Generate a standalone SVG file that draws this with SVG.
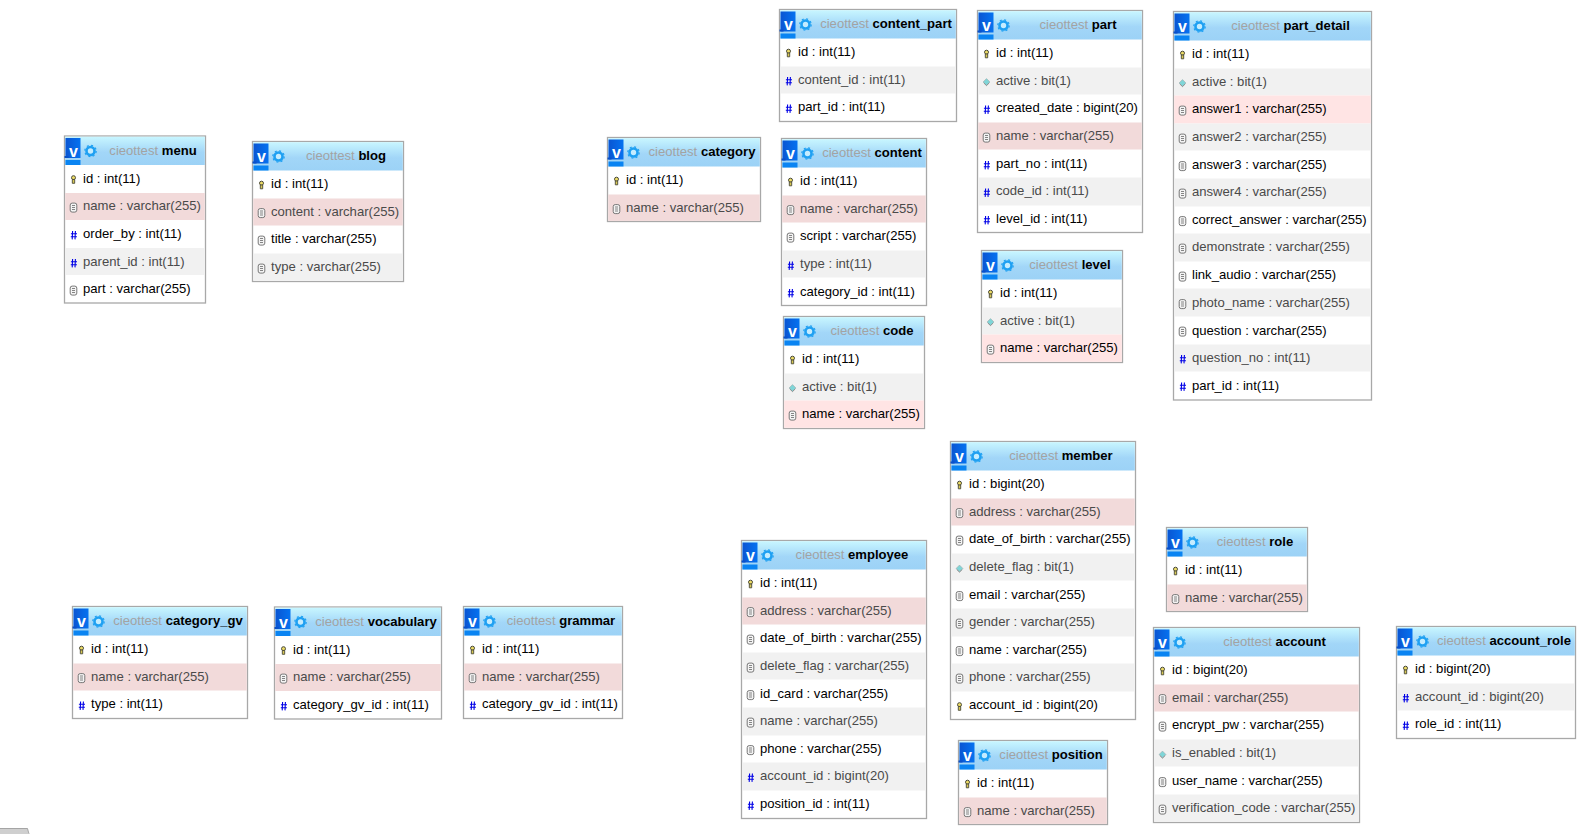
<svg xmlns="http://www.w3.org/2000/svg" width="1590" height="834" viewBox="0 0 1590 834">
<style>
text{font-family:"Liberation Sans",Arial,sans-serif;font-size:13.1px}
.box{fill:#fff;stroke:#a8a8a8;stroke-width:1.3}
.hd{fill:url(#hg)}
.alt{fill:#f1f1f1}
.pk{fill:#f2dada}
.lp{fill:#ffe4e4}
.b{fill:#000}
.g{fill:#4a4a4a}
.ttl{text-anchor:middle}
.db{fill:#a3a3a3}
.tn{fill:#000;font-weight:700}
.v{fill:#fff;font-weight:700;font-size:16px;text-anchor:middle}
</style>
<defs>
<linearGradient id="hg" x1="0" y1="0" x2="0" y2="1">
<stop offset="0" stop-color="#c8f6ff"/><stop offset=".55" stop-color="#a2d6f8"/><stop offset="1" stop-color="#9cd2f6"/>
</linearGradient>
<linearGradient id="bg" x1="0" y1="0" x2="1" y2="0">
<stop offset="0" stop-color="#0a55d2"/><stop offset="1" stop-color="#0572f0"/>
</linearGradient>
<g id="hdi">
<rect x="1" y="2" width="15" height="20" fill="url(#bg)"/>
<rect x="0" y="20" width="4" height="2" fill="#0a50c8"/>
<rect x="1" y="24" width="15" height="5" fill="#0a84f2"/>
<circle cx="26" cy="15" r="4" fill="#c4ecff" stroke="#1fa0f2" stroke-width="2.6"/>
<circle cx="26" cy="15" r="5.7" fill="none" stroke="#1fa0f2" stroke-width="1.2" stroke-dasharray="2 2.47"/>
</g>
<g id="ik">
<circle cx="0" cy="-1.8" r="2" fill="#eedd66" stroke="#4a4a3a" stroke-width="1"/>
<path d="M-1.2 0H1.2V3.8H-1.2Z" fill="#d8c850" stroke="#4a4a3a" stroke-width=".9"/>
</g>
<g id="it">
<rect x="-3.3" y="-4.4" width="6.6" height="9" rx="2" fill="#f4f4f4" stroke="#777" stroke-width="1"/>
<path d="M-1.5 -2H1.5M-1.5 0H1.5M-1.5 2H1.5" stroke="#777" stroke-width=".9"/>
</g>
<g id="ib">
<path d="M0 -3.4L3.4 0L0 3.4L-3.4 0Z" fill="#7fd6d8" stroke="#a4b0b0" stroke-width=".7"/>
<path d="M-2.7 1L0 3.6L2.7 1" fill="none" stroke="#8a8a8a" stroke-width=".9"/>
</g>
<g id="ih">
<path d="M-.9 -4L-1.3 4.4M1.9 -4L1.5 4.4M-2.6 -1.2H3.5M-2.7 1.8H3.4" fill="none" stroke="#0000e6" stroke-width="1.1"/>
</g>
</defs>
<rect width="1590" height="834" fill="#fff"/>
<g id="connectors"/>

<g id="t-menu" transform="translate(64.5,136)">
<rect class="box" width="141" height="167"/><rect class="hd" x=".7" y=".7" width="139.6" height="28.3"/><use href="#hdi"/>
<rect class="pk" x=".7" y="57" width="139.6" height="27"/><rect class="alt" x=".7" y="112" width="139.6" height="27"/>
<text class="ttl" x="88.5" y="18.5"><tspan class="db">cieottest </tspan><tspan class="tn">menu</tspan></text><text class="v" x="9" y="20.5">v</text>
<use href="#ik" x="9" y="43.5"/><text class="b" x="18.5" y="46.7">id : int(11)</text>
<use href="#it" x="9" y="71.5"/><text class="g" x="18.5" y="74.2">name : varchar(255)</text>
<use href="#ih" x="9" y="99"/><text class="b" x="18.5" y="101.9">order_by : int(11)</text>
<use href="#ih" x="9" y="127"/><text class="g" x="18.5" y="129.5">parent_id : int(11)</text>
<use href="#it" x="9" y="154.5"/><text class="b" x="18.5" y="157.2">part : varchar(255)</text>
</g>

<g id="t-blog" transform="translate(252.5,141.5)">
<rect class="box" width="151" height="140"/><rect class="hd" x=".7" y=".7" width="149.6" height="28.3"/><use href="#hdi"/>
<rect class="pk" x=".7" y="57" width="149.6" height="27"/><rect class="alt" x=".7" y="112" width="149.6" height="27"/>
<text class="ttl" x="93.5" y="18.5"><tspan class="db">cieottest </tspan><tspan class="tn">blog</tspan></text><text class="v" x="9" y="20.5">v</text>
<use href="#ik" x="9" y="43.5"/><text class="b" x="18.5" y="46.7">id : int(11)</text>
<use href="#it" x="9" y="71.5"/><text class="g" x="18.5" y="74.2">content : varchar(255)</text>
<use href="#it" x="9" y="99"/><text class="b" x="18.5" y="101.9">title : varchar(255)</text>
<use href="#it" x="9" y="127"/><text class="g" x="18.5" y="129.5">type : varchar(255)</text>
</g>

<g id="t-category" transform="translate(607.5,137.5)">
<rect class="box" width="153" height="84"/><rect class="hd" x=".7" y=".7" width="151.6" height="28.3"/><use href="#hdi"/>
<rect class="pk" x=".7" y="57" width="151.6" height="26.4"/>
<text class="ttl" x="94.5" y="18.5"><tspan class="db">cieottest </tspan><tspan class="tn">category</tspan></text><text class="v" x="9" y="20.5">v</text>
<use href="#ik" x="9" y="43.5"/><text class="b" x="18.5" y="46.7">id : int(11)</text>
<use href="#it" x="9" y="71.5"/><text class="g" x="18.5" y="74.2">name : varchar(255)</text>
</g>

<g id="t-content-part" transform="translate(779.5,9.5)">
<rect class="box" width="177" height="112"/><rect class="hd" x=".7" y=".7" width="175.6" height="28.3"/><use href="#hdi"/>
<rect class="alt" x=".7" y="57" width="175.6" height="27"/>
<text class="ttl" x="106.5" y="18.5"><tspan class="db">cieottest </tspan><tspan class="tn">content_part</tspan></text><text class="v" x="9" y="20.5">v</text>
<use href="#ik" x="9" y="43.5"/><text class="b" x="18.5" y="46.7">id : int(11)</text>
<use href="#ih" x="9" y="71.5"/><text class="g" x="18.5" y="74.2">content_id : int(11)</text>
<use href="#ih" x="9" y="99"/><text class="b" x="18.5" y="101.9">part_id : int(11)</text>
</g>

<g id="t-content" transform="translate(781.5,138.5)">
<rect class="box" width="145" height="167"/><rect class="hd" x=".7" y=".7" width="143.6" height="28.3"/><use href="#hdi"/>
<rect class="pk" x=".7" y="57" width="143.6" height="27"/><rect class="alt" x=".7" y="112" width="143.6" height="27"/>
<text class="ttl" x="90.5" y="18.5"><tspan class="db">cieottest </tspan><tspan class="tn">content</tspan></text><text class="v" x="9" y="20.5">v</text>
<use href="#ik" x="9" y="43.5"/><text class="b" x="18.5" y="46.7">id : int(11)</text>
<use href="#it" x="9" y="71.5"/><text class="g" x="18.5" y="74.2">name : varchar(255)</text>
<use href="#it" x="9" y="99"/><text class="b" x="18.5" y="101.9">script : varchar(255)</text>
<use href="#ih" x="9" y="127"/><text class="g" x="18.5" y="129.5">type : int(11)</text>
<use href="#ih" x="9" y="154.5"/><text class="b" x="18.5" y="157.2">category_id : int(11)</text>
</g>

<g id="t-code" transform="translate(783.5,316.5)">
<rect class="box" width="141" height="112"/><rect class="hd" x=".7" y=".7" width="139.6" height="28.3"/><use href="#hdi"/>
<rect class="alt" x=".7" y="57" width="139.6" height="27"/><rect class="lp" x=".7" y="84" width="139.6" height="27.3"/>
<text class="ttl" x="88.5" y="18.5"><tspan class="db">cieottest </tspan><tspan class="tn">code</tspan></text><text class="v" x="9" y="20.5">v</text>
<use href="#ik" x="9" y="43.5"/><text class="b" x="18.5" y="46.7">id : int(11)</text>
<use href="#ib" x="9" y="71.5"/><text class="g" x="18.5" y="74.2">active : bit(1)</text>
<use href="#it" x="9" y="99"/><text class="b" x="18.5" y="101.9">name : varchar(255)</text>
</g>

<g id="t-part" transform="translate(977.5,10.5)">
<rect class="box" width="165" height="222"/><rect class="hd" x=".7" y=".7" width="163.6" height="28.3"/><use href="#hdi"/>
<rect class="alt" x=".7" y="57" width="163.6" height="27"/><rect class="pk" x=".7" y="112" width="163.6" height="27"/><rect class="alt" x=".7" y="167" width="163.6" height="28"/>
<text class="ttl" x="100.5" y="18.5"><tspan class="db">cieottest </tspan><tspan class="tn">part</tspan></text><text class="v" x="9" y="20.5">v</text>
<use href="#ik" x="9" y="43.5"/><text class="b" x="18.5" y="46.7">id : int(11)</text>
<use href="#ib" x="9" y="71.5"/><text class="g" x="18.5" y="74.2">active : bit(1)</text>
<use href="#ih" x="9" y="99"/><text class="b" x="18.5" y="101.9">created_date : bigint(20)</text>
<use href="#it" x="9" y="127"/><text class="g" x="18.5" y="129.5">name : varchar(255)</text>
<use href="#ih" x="9" y="154.5"/><text class="b" x="18.5" y="157.2">part_no : int(11)</text>
<use href="#ih" x="9" y="182"/><text class="g" x="18.5" y="184.7">code_id : int(11)</text>
<use href="#ih" x="9" y="209.5"/><text class="b" x="18.5" y="212.2">level_id : int(11)</text>
</g>

<g id="t-level" transform="translate(981.5,250.5)">
<rect class="box" width="141" height="112"/><rect class="hd" x=".7" y=".7" width="139.6" height="28.3"/><use href="#hdi"/>
<rect class="alt" x=".7" y="57" width="139.6" height="27"/><rect class="lp" x=".7" y="84" width="139.6" height="27.3"/>
<text class="ttl" x="88.5" y="18.5"><tspan class="db">cieottest </tspan><tspan class="tn">level</tspan></text><text class="v" x="9" y="20.5">v</text>
<use href="#ik" x="9" y="43.5"/><text class="b" x="18.5" y="46.7">id : int(11)</text>
<use href="#ib" x="9" y="71.5"/><text class="g" x="18.5" y="74.2">active : bit(1)</text>
<use href="#it" x="9" y="99"/><text class="b" x="18.5" y="101.9">name : varchar(255)</text>
</g>

<g id="t-part-detail" transform="translate(1173.5,11.5)">
<rect class="box" width="198" height="388.5"/><rect class="hd" x=".7" y=".7" width="196.6" height="28.3"/><use href="#hdi"/>
<rect class="alt" x=".7" y="57" width="196.6" height="27"/><rect class="lp" x=".7" y="84" width="196.6" height="28"/><rect class="alt" x=".7" y="112" width="196.6" height="27"/><rect class="alt" x=".7" y="167" width="196.6" height="28"/><rect class="alt" x=".7" y="222" width="196.6" height="28"/><rect class="alt" x=".7" y="277" width="196.6" height="28"/><rect class="alt" x=".7" y="333" width="196.6" height="27"/>
<text class="ttl" x="117" y="18.5"><tspan class="db">cieottest </tspan><tspan class="tn">part_detail</tspan></text><text class="v" x="9" y="20.5">v</text>
<use href="#ik" x="9" y="43.5"/><text class="b" x="18.5" y="46.7">id : int(11)</text>
<use href="#ib" x="9" y="71.5"/><text class="g" x="18.5" y="74.2">active : bit(1)</text>
<use href="#it" x="9" y="99"/><text class="b" x="18.5" y="101.9">answer1 : varchar(255)</text>
<use href="#it" x="9" y="127"/><text class="g" x="18.5" y="129.5">answer2 : varchar(255)</text>
<use href="#it" x="9" y="154.5"/><text class="b" x="18.5" y="157.2">answer3 : varchar(255)</text>
<use href="#it" x="9" y="182"/><text class="g" x="18.5" y="184.7">answer4 : varchar(255)</text>
<use href="#it" x="9" y="209.5"/><text class="b" x="18.5" y="212.2">correct_answer : varchar(255)</text>
<use href="#it" x="9" y="237"/><text class="g" x="18.5" y="239.9">demonstrate : varchar(255)</text>
<use href="#it" x="9" y="265"/><text class="b" x="18.5" y="267.5">link_audio : varchar(255)</text>
<use href="#it" x="9" y="292.5"/><text class="g" x="18.5" y="295.2">photo_name : varchar(255)</text>
<use href="#it" x="9" y="320"/><text class="b" x="18.5" y="323">question : varchar(255)</text>
<use href="#ih" x="9" y="347.5"/><text class="g" x="18.5" y="350.2">question_no : int(11)</text>
<use href="#ih" x="9" y="375"/><text class="b" x="18.5" y="378.5">part_id : int(11)</text>
</g>

<g id="t-member" transform="translate(950.5,441.5)">
<rect class="box" width="185" height="278"/><rect class="hd" x=".7" y=".7" width="183.6" height="28.3"/><use href="#hdi"/>
<rect class="pk" x=".7" y="57" width="183.6" height="27"/><rect class="alt" x=".7" y="112" width="183.6" height="27"/><rect class="alt" x=".7" y="167" width="183.6" height="28"/><rect class="alt" x=".7" y="222" width="183.6" height="28"/>
<text class="ttl" x="110.5" y="18.5"><tspan class="db">cieottest </tspan><tspan class="tn">member</tspan></text><text class="v" x="9" y="20.5">v</text>
<use href="#ik" x="9" y="43.5"/><text class="b" x="18.5" y="46.7">id : bigint(20)</text>
<use href="#it" x="9" y="71.5"/><text class="g" x="18.5" y="74.2">address : varchar(255)</text>
<use href="#it" x="9" y="99"/><text class="b" x="18.5" y="101.9">date_of_birth : varchar(255)</text>
<use href="#ib" x="9" y="127"/><text class="g" x="18.5" y="129.5">delete_flag : bit(1)</text>
<use href="#it" x="9" y="154.5"/><text class="b" x="18.5" y="157.2">email : varchar(255)</text>
<use href="#it" x="9" y="182"/><text class="g" x="18.5" y="184.7">gender : varchar(255)</text>
<use href="#it" x="9" y="209.5"/><text class="b" x="18.5" y="212.2">name : varchar(255)</text>
<use href="#it" x="9" y="237"/><text class="g" x="18.5" y="239.9">phone : varchar(255)</text>
<use href="#ik" x="9" y="265"/><text class="b" x="18.5" y="267.5">account_id : bigint(20)</text>
</g>

<g id="t-position" transform="translate(958.5,740.5)">
<rect class="box" width="149" height="84"/><rect class="hd" x=".7" y=".7" width="147.6" height="28.3"/><use href="#hdi"/>
<rect class="pk" x=".7" y="57" width="147.6" height="26.4"/>
<text class="ttl" x="92.5" y="18.5"><tspan class="db">cieottest </tspan><tspan class="tn">position</tspan></text><text class="v" x="9" y="20.5">v</text>
<use href="#ik" x="9" y="43.5"/><text class="b" x="18.5" y="46.7">id : int(11)</text>
<use href="#it" x="9" y="71.5"/><text class="g" x="18.5" y="74.2">name : varchar(255)</text>
</g>

<g id="t-employee" transform="translate(741.5,540.5)">
<rect class="box" width="185" height="278"/><rect class="hd" x=".7" y=".7" width="183.6" height="28.3"/><use href="#hdi"/>
<rect class="pk" x=".7" y="57" width="183.6" height="27"/><rect class="alt" x=".7" y="112" width="183.6" height="27"/><rect class="alt" x=".7" y="167" width="183.6" height="28"/><rect class="alt" x=".7" y="222" width="183.6" height="28"/>
<text class="ttl" x="110.5" y="18.5"><tspan class="db">cieottest </tspan><tspan class="tn">employee</tspan></text><text class="v" x="9" y="20.5">v</text>
<use href="#ik" x="9" y="43.5"/><text class="b" x="18.5" y="46.7">id : int(11)</text>
<use href="#it" x="9" y="71.5"/><text class="g" x="18.5" y="74.2">address : varchar(255)</text>
<use href="#it" x="9" y="99"/><text class="b" x="18.5" y="101.9">date_of_birth : varchar(255)</text>
<use href="#it" x="9" y="127"/><text class="g" x="18.5" y="129.5">delete_flag : varchar(255)</text>
<use href="#it" x="9" y="154.5"/><text class="b" x="18.5" y="157.2">id_card : varchar(255)</text>
<use href="#it" x="9" y="182"/><text class="g" x="18.5" y="184.7">name : varchar(255)</text>
<use href="#it" x="9" y="209.5"/><text class="b" x="18.5" y="212.2">phone : varchar(255)</text>
<use href="#ih" x="9" y="237"/><text class="g" x="18.5" y="239.9">account_id : bigint(20)</text>
<use href="#ih" x="9" y="265"/><text class="b" x="18.5" y="267.5">position_id : int(11)</text>
</g>

<g id="t-role" transform="translate(1166.5,527.5)">
<rect class="box" width="141" height="84"/><rect class="hd" x=".7" y=".7" width="139.6" height="28.3"/><use href="#hdi"/>
<rect class="pk" x=".7" y="57" width="139.6" height="26.4"/>
<text class="ttl" x="88.5" y="18.5"><tspan class="db">cieottest </tspan><tspan class="tn">role</tspan></text><text class="v" x="9" y="20.5">v</text>
<use href="#ik" x="9" y="43.5"/><text class="b" x="18.5" y="46.7">id : int(11)</text>
<use href="#it" x="9" y="71.5"/><text class="g" x="18.5" y="74.2">name : varchar(255)</text>
</g>

<g id="t-account" transform="translate(1153.5,627.5)">
<rect class="box" width="206" height="195"/><rect class="hd" x=".7" y=".7" width="204.6" height="28.3"/><use href="#hdi"/>
<rect class="pk" x=".7" y="57" width="204.6" height="27"/><rect class="alt" x=".7" y="112" width="204.6" height="27"/><rect class="alt" x=".7" y="167" width="204.6" height="27.3"/>
<text class="ttl" x="121" y="18.5"><tspan class="db">cieottest </tspan><tspan class="tn">account</tspan></text><text class="v" x="9" y="20.5">v</text>
<use href="#ik" x="9" y="43.5"/><text class="b" x="18.5" y="46.7">id : bigint(20)</text>
<use href="#it" x="9" y="71.5"/><text class="g" x="18.5" y="74.2">email : varchar(255)</text>
<use href="#it" x="9" y="99"/><text class="b" x="18.5" y="101.9">encrypt_pw : varchar(255)</text>
<use href="#ib" x="9" y="127"/><text class="g" x="18.5" y="129.5">is_enabled : bit(1)</text>
<use href="#it" x="9" y="154.5"/><text class="b" x="18.5" y="157.2">user_name : varchar(255)</text>
<use href="#it" x="9" y="182"/><text class="g" x="18.5" y="184.7">verification_code : varchar(255)</text>
</g>

<g id="t-account-role" transform="translate(1396.5,626.5)">
<rect class="box" width="179" height="112"/><rect class="hd" x=".7" y=".7" width="177.6" height="28.3"/><use href="#hdi"/>
<rect class="alt" x=".7" y="57" width="177.6" height="27"/>
<text class="ttl" x="107.5" y="18.5"><tspan class="db">cieottest </tspan><tspan class="tn">account_role</tspan></text><text class="v" x="9" y="20.5">v</text>
<use href="#ik" x="9" y="43.5"/><text class="b" x="18.5" y="46.7">id : bigint(20)</text>
<use href="#ih" x="9" y="71.5"/><text class="g" x="18.5" y="74.2">account_id : bigint(20)</text>
<use href="#ih" x="9" y="99"/><text class="b" x="18.5" y="101.9">role_id : int(11)</text>
</g>

<g id="t-category-gv" transform="translate(72.5,606.5)">
<rect class="box" width="175" height="112"/><rect class="hd" x=".7" y=".7" width="173.6" height="28.3"/><use href="#hdi"/>
<rect class="pk" x=".7" y="57" width="173.6" height="27"/>
<text class="ttl" x="105.5" y="18.5"><tspan class="db">cieottest </tspan><tspan class="tn">category_gv</tspan></text><text class="v" x="9" y="20.5">v</text>
<use href="#ik" x="9" y="43.5"/><text class="b" x="18.5" y="46.7">id : int(11)</text>
<use href="#it" x="9" y="71.5"/><text class="g" x="18.5" y="74.2">name : varchar(255)</text>
<use href="#ih" x="9" y="99"/><text class="b" x="18.5" y="101.9">type : int(11)</text>
</g>

<g id="t-vocabulary" transform="translate(274.5,607)">
<rect class="box" width="167" height="112"/><rect class="hd" x=".7" y=".7" width="165.6" height="28.3"/><use href="#hdi"/>
<rect class="pk" x=".7" y="57" width="165.6" height="27"/>
<text class="ttl" x="101.5" y="18.5"><tspan class="db">cieottest </tspan><tspan class="tn">vocabulary</tspan></text><text class="v" x="9" y="20.5">v</text>
<use href="#ik" x="9" y="43.5"/><text class="b" x="18.5" y="46.7">id : int(11)</text>
<use href="#it" x="9" y="71.5"/><text class="g" x="18.5" y="74.2">name : varchar(255)</text>
<use href="#ih" x="9" y="99"/><text class="b" x="18.5" y="101.9">category_gv_id : int(11)</text>
</g>

<g id="t-grammar" transform="translate(463.5,606.5)">
<rect class="box" width="159" height="112"/><rect class="hd" x=".7" y=".7" width="157.6" height="28.3"/><use href="#hdi"/>
<rect class="pk" x=".7" y="57" width="157.6" height="27"/>
<text class="ttl" x="97.5" y="18.5"><tspan class="db">cieottest </tspan><tspan class="tn">grammar</tspan></text><text class="v" x="9" y="20.5">v</text>
<use href="#ik" x="9" y="43.5"/><text class="b" x="18.5" y="46.7">id : int(11)</text>
<use href="#it" x="9" y="71.5"/><text class="g" x="18.5" y="74.2">name : varchar(255)</text>
<use href="#ih" x="9" y="99"/><text class="b" x="18.5" y="101.9">category_gv_id : int(11)</text>
</g>

<path d="M0 828.5H28V834H0Z" fill="#cfcfcf"/><path d="M0 828.5H27.5L29 834" fill="none" stroke="#a5a5a5" stroke-width="1"/>
</svg>
